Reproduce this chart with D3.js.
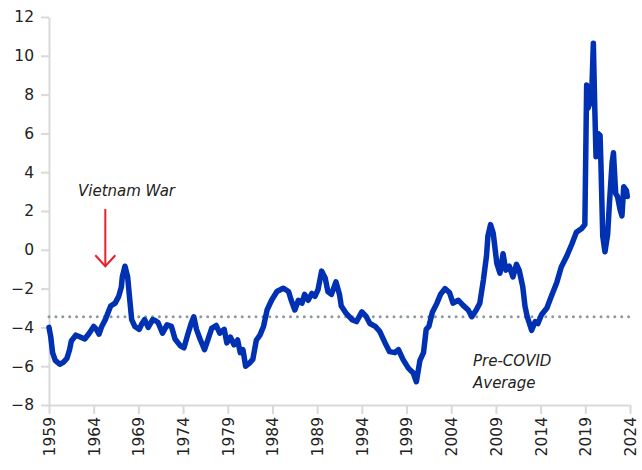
<!DOCTYPE html>
<html>
<head>
<meta charset="utf-8">
<script src="https://cdn.jsdelivr.net/npm/d3@7"></script>
<style>
  body { margin: 0; background: #fff; }
  text { font-family: "DejaVu Sans", sans-serif; fill: #222; }
</style>
</head>
<body>
<div id="viz"></div>
<script>
var margin = {top: 17, right: 12, bottom: 65, left: 49},
    width = 642,
    height = 470;

// decimal years
var years = [1959.0, 1959.2, 1959.4, 1959.7, 1960.2, 1960.6, 1961.0, 1961.3, 1961.5, 1962.0,
  1962.5, 1963.0, 1963.5, 1964.0, 1964.3, 1964.6, 1964.9, 1965.3, 1965.6, 1965.9,
  1966.4, 1966.8, 1967.1, 1967.2, 1967.5, 1967.8, 1968.0, 1968.25, 1968.6, 1969.1,
  1969.4, 1969.7, 1970.1, 1970.6, 1970.9, 1971.2, 1971.7, 1972.2, 1972.7, 1973.1,
  1973.7, 1974.1, 1974.5, 1974.9, 1975.2, 1975.5, 1975.9, 1976.4, 1976.8, 1977.2,
  1977.7, 1978.1, 1978.6, 1978.9, 1979.3, 1979.7, 1980.1, 1980.4, 1980.7, 1981.0,
  1981.4, 1981.8, 1982.2, 1982.6, 1983.0, 1983.4, 1983.9, 1984.5, 1985.2, 1985.8,
  1986.1, 1986.5, 1986.9, 1987.3, 1987.6, 1988.0, 1988.4, 1988.75, 1989.1, 1989.5,
  1989.9, 1990.2, 1990.6, 1991.1, 1991.5, 1991.7, 1992.2, 1992.9, 1993.4, 1994.0,
  1994.5, 1994.9, 1995.5, 1996.0, 1996.6, 1997.1, 1997.7, 1998.1, 1998.6, 1999.2,
  1999.75, 2000.1, 2000.5, 2000.9, 2001.2, 2001.5, 2001.9, 2002.4, 2002.8, 2003.3,
  2003.8, 2004.2, 2004.8, 2005.3, 2005.9, 2006.3, 2006.8, 2007.2, 2007.6, 2007.95,
  2008.1, 2008.4, 2008.7, 2009.1, 2009.45, 2009.8, 2010.1, 2010.5, 2010.9, 2011.3,
  2011.6, 2012.0, 2012.25, 2012.5, 2013.0, 2013.4, 2013.7, 2014.1, 2014.7, 2015.2,
  2015.8, 2016.3, 2016.9, 2017.5, 2018.0, 2018.6, 2018.95, 2019.15, 2019.3, 2019.7,
  2019.9, 2020.05, 2020.2, 2020.4, 2020.65, 2020.75, 2020.95, 2021.2, 2021.5, 2021.7,
  2022.0, 2022.15, 2022.4, 2022.6, 2022.9, 2023.1, 2023.3, 2023.6, 2023.7];

var values = [-4.0, -4.5, -5.3, -5.7, -5.9, -5.8, -5.6, -5.15, -4.7, -4.4,
  -4.5, -4.6, -4.3, -3.95, -4.1, -4.35, -3.95, -3.6, -3.25, -2.9,
  -2.75, -2.4, -1.9, -1.4, -0.85, -1.4, -2.4, -3.6, -3.95, -4.1,
  -3.8, -3.6, -4.0, -3.6, -3.65, -3.75, -4.3, -3.87, -3.95, -4.6,
  -4.95, -5.05, -4.4, -3.8, -3.45, -4.1, -4.6, -5.15, -4.6, -4.05,
  -3.9, -4.3, -4.1, -4.8, -4.5, -4.9, -4.65, -5.3, -5.15, -6.0,
  -5.85, -5.65, -4.65, -4.4, -3.95, -3.1, -2.6, -2.15, -1.98, -2.15,
  -2.6, -3.1, -2.6, -2.75, -2.3, -2.6, -2.25, -2.4, -2.05, -1.1,
  -1.45, -2.15, -2.3, -1.65, -2.3, -2.9, -3.25, -3.6, -3.7, -3.2,
  -3.45, -3.8, -3.95, -4.2, -4.8, -5.25, -5.3, -5.15, -5.65, -6.1,
  -6.35, -6.8, -5.7, -5.3, -4.1, -3.95, -3.2, -2.75, -2.3, -2.0,
  -2.2, -2.75, -2.6, -2.85, -3.1, -3.45, -3.1, -2.75, -1.55, -0.3,
  0.7, 1.3, 0.85, -0.7, -1.2, -0.2, -1.05, -0.85, -1.4, -0.75,
  -1.05, -1.9, -2.9, -3.45, -4.15, -3.7, -3.8, -3.35, -3.0, -2.4,
  -1.7, -0.9, -0.35, 0.3, 0.9, 1.1, 1.3, 8.5, 7.3, 7.8,
  10.65, 7.5, 4.8, 6.0, 5.9, 4.4, 0.7, -0.1, 0.8, 2.4,
  4.5, 5.0, 2.9, 2.75, 2.05, 1.75, 3.25, 3.05, 2.75];

var yTicks = [-8, -6, -4, -2, 0, 2, 4, 6, 8, 10, 12];
var xTicks = [1959, 1964, 1969, 1974, 1979, 1984, 1989, 1994, 1999, 2004, 2009, 2014, 2019, 2024];
var preCovidAverage = -3.45;
var vietnamYear = 1965.3;

var data = years.map(function(d, i) { return {year: d, value: values[i]}; });

var x = d3.scaleLinear()
  .domain([1959, 2024])
  .range([margin.left, width - margin.right]);

var y = d3.scaleLinear()
  .domain([-8, 12])
  .range([height - margin.bottom, margin.top]);

var svg = d3.select('#viz').append('svg')
  .attr('width', width)
  .attr('height', height);

// y axis
svg.append('g')
  .attr('transform', 'translate(' + margin.left + ',0)')
  .call(d3.axisLeft(y).tickValues(yTicks).tickSize(8).tickPadding(7).tickSizeOuter(0))
  .call(function(g) {
    g.selectAll('.domain, line').attr('stroke', '#d9d9d9').attr('stroke-width', 2);
    g.selectAll('text').attr('font-size', 15.5).attr('fill', '#222').attr('font-family', '"DejaVu Sans", sans-serif');
  });

// x axis
svg.append('g')
  .attr('transform', 'translate(0,' + y(-8) + ')')
  .call(d3.axisBottom(x).tickValues(xTicks).tickFormat(d3.format('d')).tickSize(9).tickSizeOuter(0))
  .call(function(g) {
    g.selectAll('.domain, line').attr('stroke', '#d9d9d9').attr('stroke-width', 2);
    g.selectAll('text')
      .attr('font-size', 15.5).attr('fill', '#222').attr('font-family', '"DejaVu Sans", sans-serif')
      .attr('transform', 'rotate(-90)')
      .attr('text-anchor', 'end')
      .attr('x', -12)
      .attr('y', 0)
      .attr('dy', '0.35em');
  });

// pre-covid average
svg.append('line')
  .attr('x1', x(1959)).attr('x2', x(2024))
  .attr('y1', y(preCovidAverage)).attr('y2', y(preCovidAverage))
  .attr('stroke', '#8d999e')
  .attr('stroke-width', 3)
  .attr('stroke-linecap', 'round')
  .attr('stroke-dasharray', '0,6.9');

var line = d3.line()
  .x(function(d) { return x(d.year); })
  .y(function(d) { return y(d.value); });

svg.append('path')
  .datum(data)
  .attr('fill', 'none')
  .attr('stroke', '#0131b3')
  .attr('stroke-width', 5.5)
  .attr('stroke-linejoin', 'round')
  .attr('stroke-linecap', 'round')
  .attr('d', line);

// annotations
svg.append('text')
  .attr('x', 78).attr('y', 196)
  .attr('font-size', 15).attr('font-style', 'italic')
  .attr('fill', '#222')
  .text('Vietnam War');

var ax = x(vietnamYear);
svg.append('line')
  .attr('x1', ax).attr('x2', ax)
  .attr('y1', y(2.1)).attr('y2', y(-0.85))
  .attr('stroke', '#e8202a').attr('stroke-width', 2);
svg.append('path')
  .attr('d', 'M' + (ax - 10) + ',' + (y(-0.85) - 11) + 'L' + ax + ',' + y(-0.85) + 'L' + (ax + 10) + ',' + (y(-0.85) - 11))
  .attr('fill', 'none')
  .attr('stroke', '#e8202a').attr('stroke-width', 2);

svg.append('text')
  .attr('x', 473).attr('y', 366)
  .attr('font-size', 15).attr('font-style', 'italic')
  .attr('fill', '#222')
  .text('Pre-COVID');
svg.append('text')
  .attr('x', 473).attr('y', 388)
  .attr('font-size', 15).attr('font-style', 'italic')
  .attr('fill', '#222')
  .text('Average');
</script>
</body>
</html>
